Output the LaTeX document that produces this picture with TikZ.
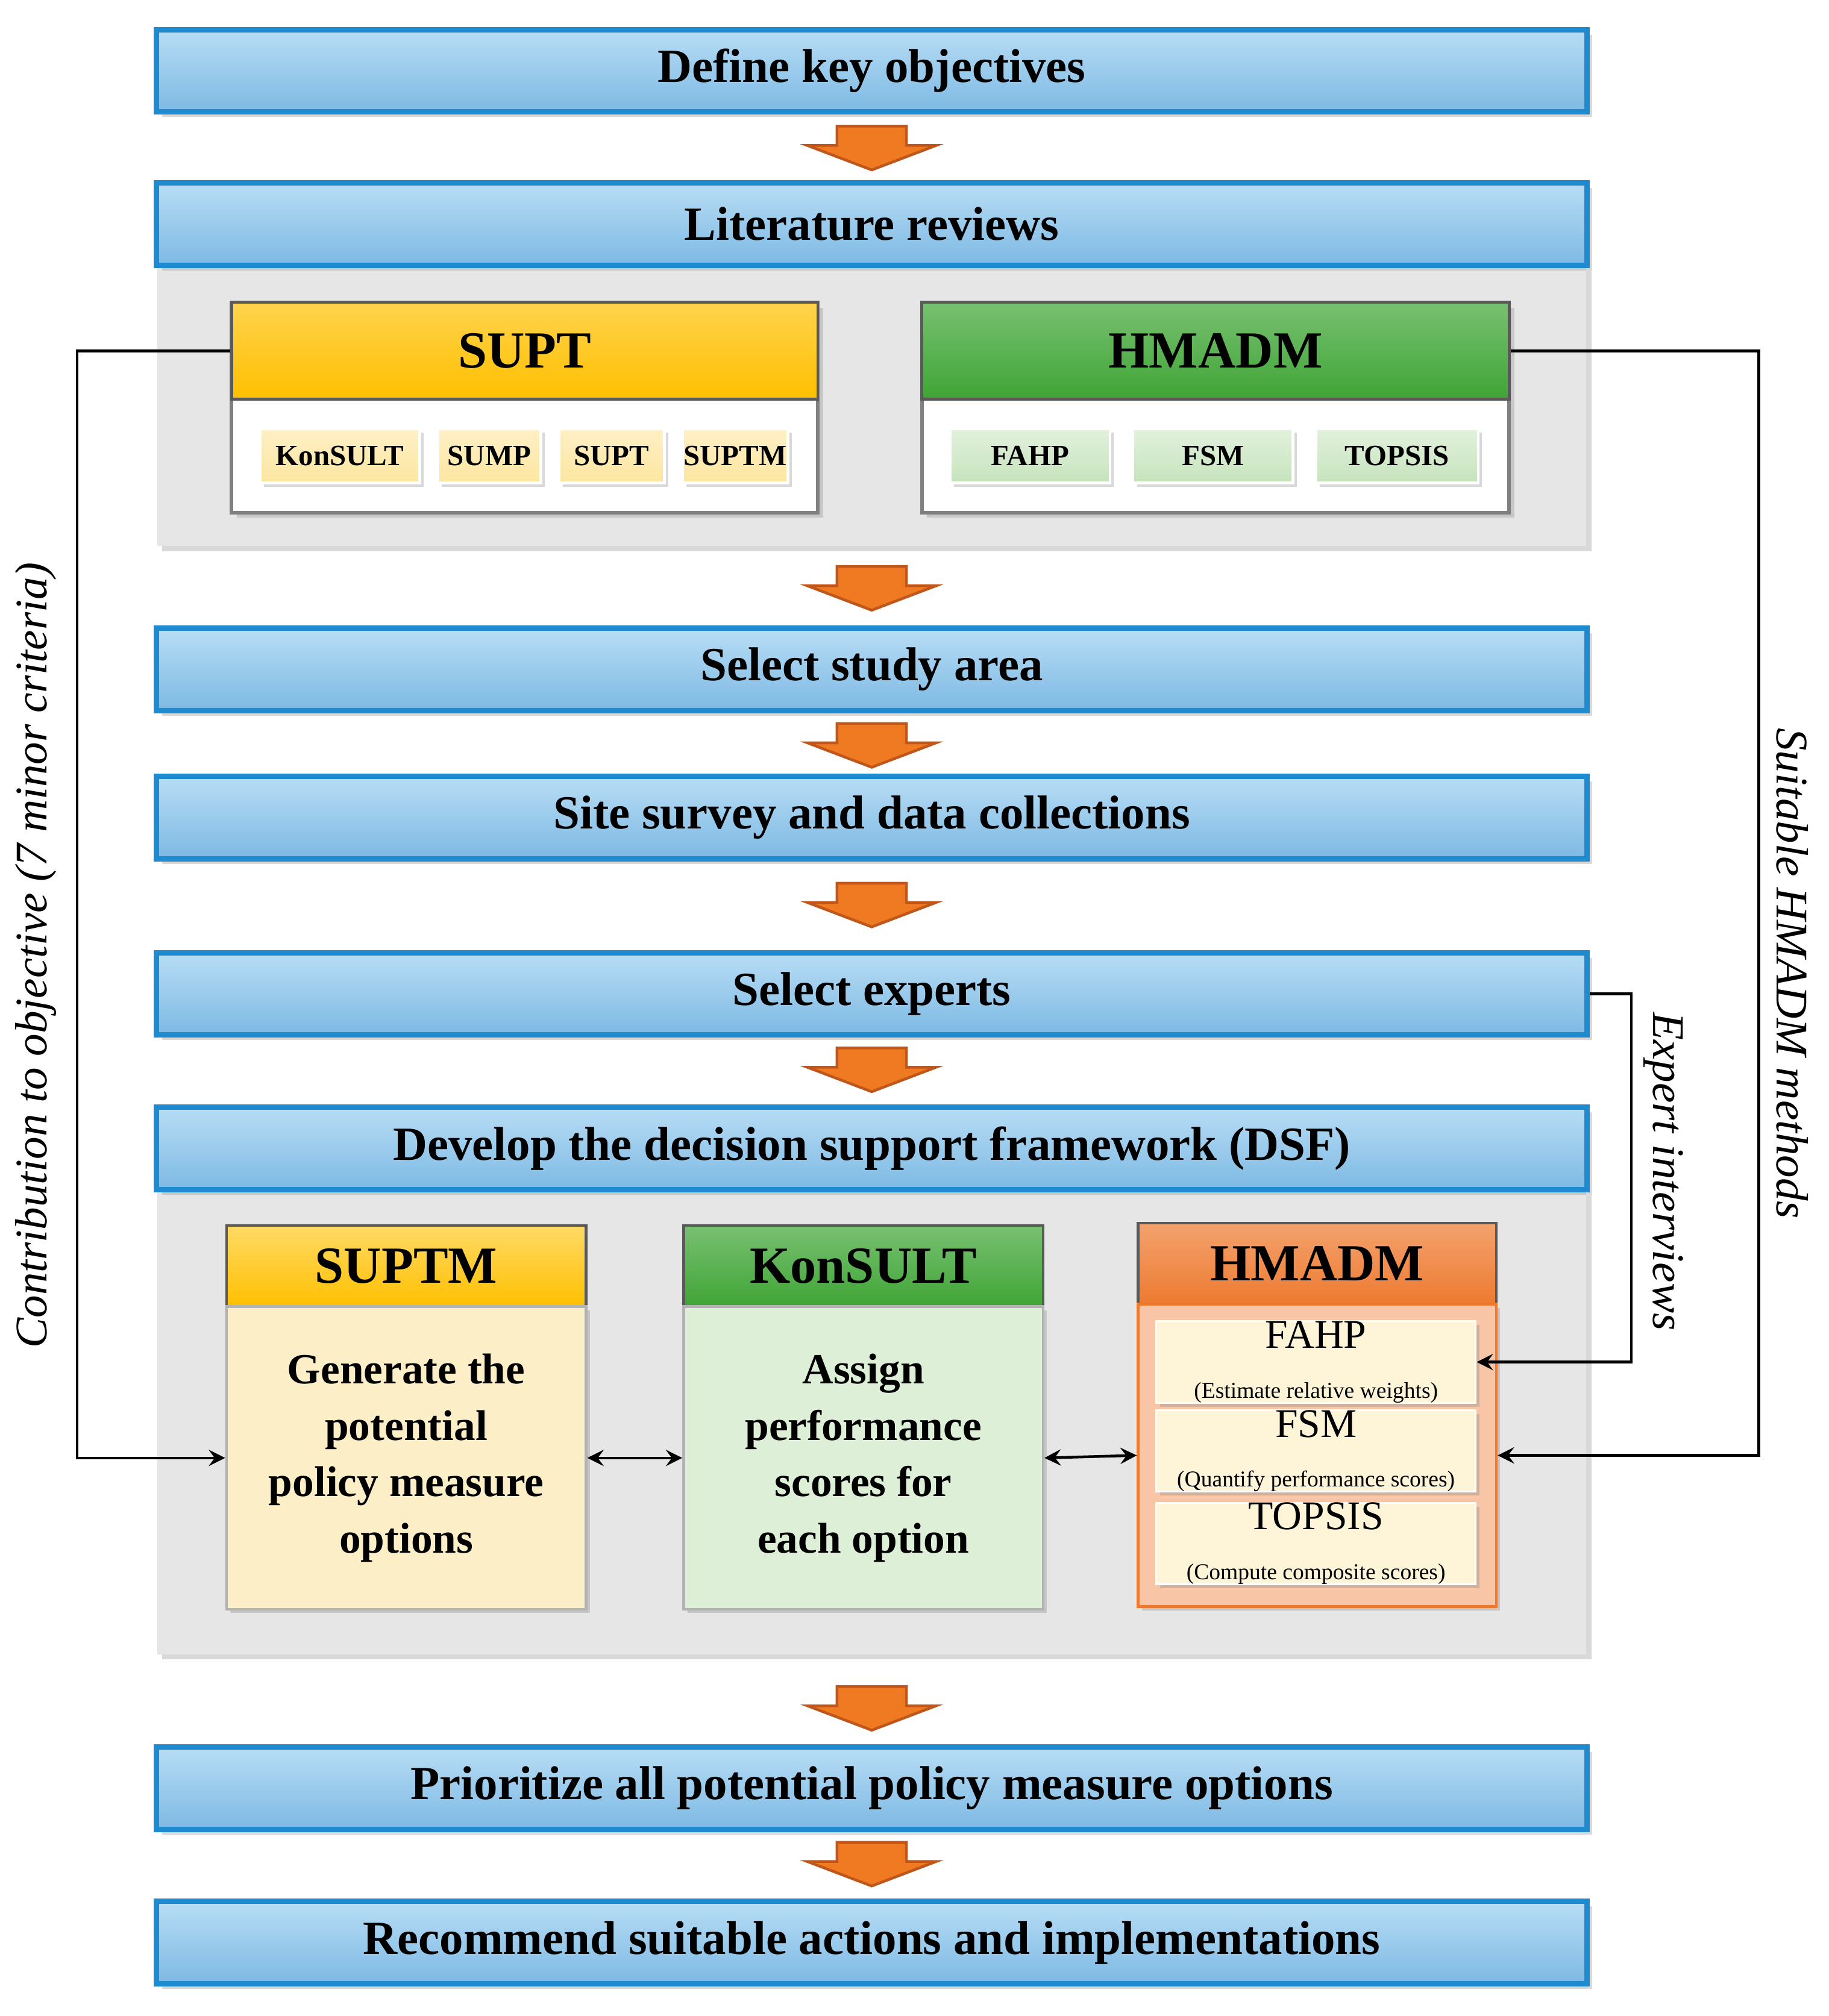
\documentclass[tikz,border=0pt]{standalone}
\usepackage{fontspec}
\setmainfont{Liberation Serif}
\usetikzlibrary{shadows,calc}
\definecolor{bluetop}{HTML}{B8DDF5}
\definecolor{bluebot}{HTML}{7DB9E3}
\definecolor{blueline}{HTML}{1E8AD0}
\definecolor{goldh}{HTML}{FFC000}
\definecolor{greenh}{HTML}{3FA535}
\definecolor{orangeh}{HTML}{EE7A30}
\definecolor{goldl}{HTML}{FDE6A0}
\definecolor{greenl}{HTML}{C6E3BC}
\definecolor{goldb}{HTML}{FCEFC8}
\definecolor{greenb}{HTML}{DDEFD6}
\definecolor{salmon}{HTML}{F8C6A6}
\definecolor{panel}{HTML}{E6E6E6}
\definecolor{arrfill}{HTML}{F07A22}
\definecolor{arrline}{HTML}{C0561A}
\tikzset{
  banner/.style={draw=blueline,line width=1.2pt,top color=bluetop,bottom color=bluebot,
    minimum width=11.1cm,minimum height=0.64cm,font=\fontsize{10.5}{12}\selectfont\bfseries,
    drop shadow={opacity=0.3,shadow xshift=0.04cm,shadow yshift=-0.04cm}},
  panelbox/.style={fill=panel,draw=none,drop shadow={opacity=0.3,shadow xshift=0.04cm,shadow yshift=-0.04cm}},
  whitebox/.style={fill=white,draw=gray,line width=0.8pt,drop shadow={opacity=0.3,shadow xshift=0.04cm,shadow yshift=-0.04cm}},
  head/.style={draw=gray!70!black,line width=0.6pt,font=\fontsize{11.5}{14}\selectfont\bfseries,inner sep=0pt},
  sub/.style={draw=white,line width=0.6pt,minimum height=0.42cm,inner sep=0pt,
    font=\fontsize{6.5}{7}\selectfont\bfseries,drop shadow={opacity=0.3,shadow xshift=0.03cm,shadow yshift=-0.03cm}},
  body/.style={draw=gray!60,line width=0.6pt,align=center,inner sep=0pt,
    font=\fontsize{9.5}{12.5}\selectfont\bfseries},
  hsub/.style={fill=white!60!goldl,draw=white,minimum width=2.48cm,inner sep=0pt,align=center,
    drop shadow={opacity=0.3,shadow xshift=0.03cm,shadow yshift=-0.03cm}},
  rlabel/.style={font=\fontsize{10}{12}\selectfont\itshape},
  conn/.style={-stealth,line width=0.6pt},
  pics/downarr/.style={code={
    \filldraw[fill=arrfill,draw=arrline,line width=0.6pt]
      (-27,-17)--(27,-17)--(27,-2)--(50,-2)--(0,17)--(-50,-2)--(-27,-2)--cycle;}}
}
\begin{document}
\begin{tikzpicture}[x=0.01cm,y=-0.01cm]
\useasboundingbox (0,0) rectangle (1420,1566);
% grey panels
\fill[panelbox] (122,206) rectangle (1232,424);
\fill[panelbox] (122,924) rectangle (1232,1285);
% banners
\node[banner] (obj) at (677,55) {Define key objectives};
\node[banner] (lit) at (677,174) {Literature reviews};
\node[banner] (area) at (677,520) {Select study area};
\node[banner] (site) at (677,635) {Site survey and data collections};
\node[banner] (exp) at (677,772) {Select experts};
\node[banner] (dsf) at (677,892) {Develop the decision support framework (DSF)};
\node[banner] (prio) at (677,1389) {Prioritize all potential policy measure options};
\node[banner] (rec) at (677,1509) {Recommend suitable actions and implementations};
% flow arrows
\foreach \y in {115,457,579,703,831,1327,1448} \pic at (677,\y) {downarr};
% literature boxes
\node[whitebox,minimum width=4.55cm,minimum height=1.63cm] (suptbox) at (407.5,316.5) {};
\node[head,top color=goldh!70!white,bottom color=goldh,minimum width=4.55cm,minimum height=0.75cm] (supt) at (407.5,272.5) {SUPT};
\node[sub,top color=goldl!60!white,bottom color=goldl,minimum width=1.24cm] (s1) at (264,354) {KonSULT};
\node[sub,top color=goldl!60!white,bottom color=goldl,minimum width=0.8cm] (s2) at (380,354) {SUMP};
\node[sub,top color=goldl!60!white,bottom color=goldl,minimum width=0.82cm] (s3) at (475,354) {SUPT};
\node[sub,top color=goldl!60!white,bottom color=goldl,minimum width=0.82cm] (s4) at (571,354) {SUPTM};
\node[whitebox,minimum width=4.56cm,minimum height=1.63cm] (hmbox) at (944,316.5) {};
\node[head,top color=greenh!70!white,bottom color=greenh,minimum width=4.56cm,minimum height=0.75cm] (hmadm) at (944,272.5) {HMADM};
\node[sub,top color=greenl!50!white,bottom color=greenl,minimum width=1.24cm] (h1) at (800,354) {FAHP};
\node[sub,top color=greenl!50!white,bottom color=greenl,minimum width=1.24cm] (h2) at (942,354) {FSM};
\node[sub,top color=greenl!50!white,bottom color=greenl,minimum width=1.26cm] (h3) at (1085,354) {TOPSIS};
% DSF columns
\node[head,top color=goldh!60!white,bottom color=goldh,minimum width=2.79cm,minimum height=0.63cm] (c1h) at (315.5,983.5) {SUPTM};
\node[body,fill=goldb,minimum width=2.79cm,minimum height=2.35cm,drop shadow={opacity=0.3,shadow xshift=0.03cm,shadow yshift=-0.03cm}] (c1) at (315.5,1132.5) {Generate the\\potential\\policy measure\\options};
\node[head,top color=greenh!70!white,bottom color=greenh,minimum width=2.79cm,minimum height=0.63cm] (c2h) at (670.5,983.5) {KonSULT};
\node[body,fill=greenb,minimum width=2.79cm,minimum height=2.35cm,drop shadow={opacity=0.3,shadow xshift=0.03cm,shadow yshift=-0.03cm}] (c2) at (670.5,1132.5) {Assign\\performance\\scores for\\each option};
\node[head,top color=orangeh!70!white,bottom color=orangeh,minimum width=2.78cm,minimum height=0.63cm] (c3h) at (1023,981.5) {HMADM};
\node[body,fill=salmon,draw=orangeh,minimum width=2.78cm,minimum height=2.35cm,drop shadow={opacity=0.3,shadow xshift=0.03cm,shadow yshift=-0.03cm}] (c3) at (1023,1130.5) {};
\node[hsub,minimum height=0.53cm] (fahp) at (1022,1058) {{\fontsize{9}{9}\selectfont FAHP}\\[-1pt]{\fontsize{5}{6}\selectfont (Estimate relative weights)}};
\node[hsub,minimum height=0.55cm] (fsm) at (1022,1127) {{\fontsize{9}{9}\selectfont FSM}\\[-1pt]{\fontsize{5}{6}\selectfont (Quantify performance scores)}};
\node[hsub,minimum height=0.54cm] (tops) at (1022,1199) {{\fontsize{9}{9}\selectfont TOPSIS}\\[-1pt]{\fontsize{5}{6}\selectfont (Compute composite scores)}};
% connectors
\coordinate (lx) at (60,0);
\coordinate (rx) at (1366,0);
\coordinate (ex) at (1267,0);
\draw[conn] (supt.west) -- (supt.west -| lx) |- (c1.west);
\draw[conn] (hmadm.east) -- (hmadm.east -| rx) |- (c3.east);
\draw[conn] (exp.east) -- (exp.east -| ex) |- (fahp.east);
\draw[stealth-stealth,line width=0.6pt] (c1.east) -- (c2.west);
\draw[stealth-stealth,line width=0.6pt] (c2.east) -- (c3.west);
% side labels
\node[rlabel,rotate=90] (lab1) at (28,742) {Contribution to objective (7 minor criteria)};
\node[rlabel,rotate=-90] (lab2) at (1392,756) {Suitable HMADM methods};
\node[rlabel,rotate=-90] (lab3) at (1292,910) {Expert interviews};
\end{tikzpicture}
\end{document}
